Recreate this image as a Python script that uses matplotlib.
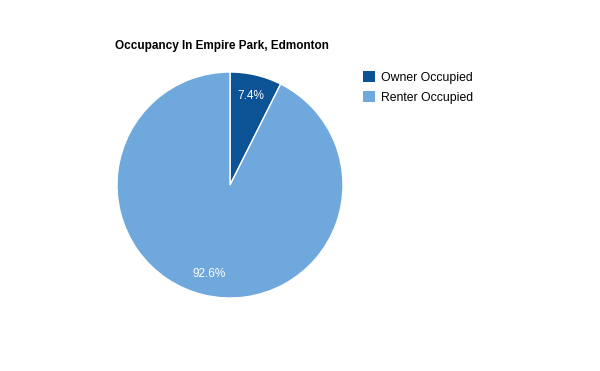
import matplotlib.pyplot as plt
from matplotlib.patches import Patch

plt.rcParams['font.family'] = ['Liberation Sans', 'DejaVu Sans']

labels = ['Owner Occupied', 'Renter Occupied']
values = [7.4, 92.6]
colors = ['#0b5394', '#6fa8dc']

fig = plt.figure(figsize=(6, 3.71), dpi=100)
W, H = 600, 371
cx, cy, r = 230, 185, 113
ax = fig.add_axes([(cx - r) / W, (H - cy - r) / H, 2 * r / W, 2 * r / H])

wedges, texts, autotexts = ax.pie(values, colors=colors, startangle=90, counterclock=False,
                                  autopct='%.1f%%', pctdistance=0.81,
                                  wedgeprops={'edgecolor': 'white', 'linewidth': 1})
for t in autotexts:
    t.set_color('white')
    t.set_fontsize(8.5)
ax.set_aspect('equal')
ax.set_xlim(-1, 1)
ax.set_ylim(-1, 1)

fig.text(115 / W, 1 - 46 / H, 'Occupancy In Empire Park, Edmonton',
         fontsize=8.5, fontweight='bold', va='center', ha='left')

handles = [Patch(facecolor=c, edgecolor='none') for c in colors]
fig.legend(handles, labels, loc='upper left', bbox_to_anchor=(358 / W, 1 - 66 / H),
           frameon=False, fontsize=8.8, handlelength=1.0, handleheight=1.0,
           handletextpad=0.45, labelspacing=0.6, borderaxespad=0)

fig.savefig('out.png', dpi=100)
